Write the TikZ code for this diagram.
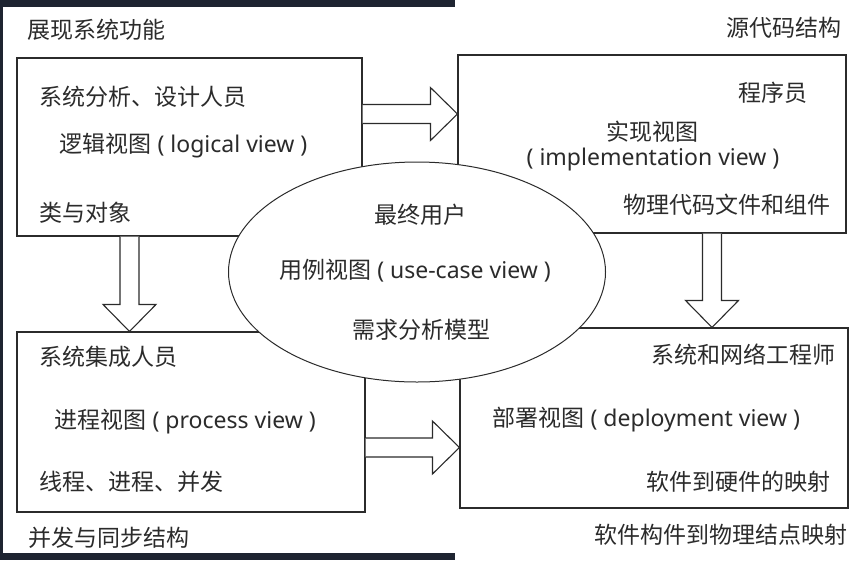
\documentclass[tikz,border=0pt]{standalone}
\usepackage{fontspec}
\setmainfont{Noto Sans CJK SC}
\newfontfamily\enfont{Noto Sans}
\usetikzlibrary{shapes.geometric,calc,positioning}

\definecolor{inkgray}{HTML}{2B2B2B}
\definecolor{framedark}{HTML}{1E2431}

\newcommand{\en}[1]{{\enfont #1}}

\tikzset{
  viewbox/.style={draw=inkgray, line width=1.1pt, fill=white, inner sep=0pt},
  usecase/.style={ellipse, draw=inkgray, line width=1pt, fill=white, inner sep=0pt,
    minimum width=377pt, minimum height=220pt},
  lbl/.style={text=inkgray, font=\fontsize{23}{26}\selectfont, inner sep=0pt},
  hollow/.style={draw=inkgray, line width=1.1pt, fill=white, line join=miter},
}

% hollow block arrow, left to right: from node #1 to node #2 at height #3
\newcommand{\hollowh}[3]{%
  \draw[hollow] (#1.east |- 0,#3-9.5) -- ($(#2.west |- 0,#3)+(-27,-9.5)$) -- ++(0,-17)
    -- (#2.west |- 0,#3) -- ($(#2.west |- 0,#3)+(-27,26.5)$) -- ++(0,-17)
    -- (#1.east |- 0,#3+9.5);}
% hollow block arrow, top to bottom: from node #1 to node #2 at x #3
\newcommand{\hollowv}[3]{%
  \draw[hollow] (#3-9.5,0 |- #1.south) -- ($(#3,0 |- #2.north)+(-9.5,-27)$) -- ++(-17,0)
    -- (#3,0 |- #2.north) -- ($(#3,0 |- #2.north)+(26.5,-27)$) -- ++(-17,0)
    -- (#3+9.5,0 |- #1.south);}

\begin{document}
\begin{tikzpicture}[x=1pt,y=-1pt]
    \useasboundingbox (0,0) rectangle (858,560);
    % window frame
    \fill[framedark] (0,0) rectangle (455,7);
    \fill[framedark] (0,0) rectangle (3,560);
    \fill[framedark] (0,553) rectangle (455,560);

    % four views
    \node[viewbox, minimum width=345pt, minimum height=178pt] (logic)   at (189.5,147) {};
    \node[viewbox, minimum width=388pt, minimum height=178pt] (impl)    at (652,144) {};
    \node[viewbox, minimum width=348pt, minimum height=180pt] (process) at (191,422) {};
    \node[viewbox, minimum width=388pt, minimum height=180pt] (deploy)  at (654,418) {};

    % arrows between the views
    \hollowh{logic}{impl}{114}
    \hollowh{process}{deploy}{447.5}
    \hollowv{logic}{process}{129.5}
    \hollowv{impl}{deploy}{712}

    % use-case view in the middle
    \node[usecase] (usec) at (417,272) {};

    % outer labels
    \node[lbl, anchor=west] (showfunc) at (27,30) {展现系统功能};
    \node[lbl, anchor=east] (srcstruct) at (842,28) {源代码结构};
    \node[lbl, anchor=west] (syncstruct) at (28,538) {并发与同步结构};
    \node[lbl, anchor=east] (mapping) at (848,535) {软件构件到物理结点映射};

    % logical view
    \node[lbl, anchor=west] (logicwho)  at ($(logic.north west)+(23,39)$) {系统分析、设计人员};
    \node[lbl, anchor=west] (logicname) at ($(logic.north west)+(43,88)$) {逻辑视图\en{ ( logical view )}};
    \node[lbl, anchor=west] (logicwhat) at ($(logic.north west)+(23,155)$) {类与对象};

    % implementation view
    \node[lbl, anchor=east] (implwho)   at ($(impl.north east)+(-39,38)$) {程序员};
    \node[lbl] (implname)  at ($(impl.north)+(0,77)$) {实现视图};
    \node[lbl] (implname2) at ($(impl.north)+(1,105)$) {\en{( implementation view )}};
    \node[lbl, anchor=east] (implwhat)  at ($(impl.north east)+(-16,150)$) {物理代码文件和组件};

    % use-case view
    \node[lbl] (usecwho)  at ($(usec.center)+(3,-57)$) {最终用户};
    \node[lbl] (usecname) at ($(usec.center)+(-2,-1)$) {用例视图\en{ ( use-case view )}};
    \node[lbl] (usecwhat) at ($(usec.center)+(4,58)$) {需求分析模型};

    % process view
    \node[lbl, anchor=west] (procwho)  at ($(process.north west)+(23,25)$) {系统集成人员};
    \node[lbl, anchor=west] (procname) at ($(process.north west)+(38,90)$) {进程视图\en{ ( process view )}};
    \node[lbl, anchor=west] (procwhat) at ($(process.north west)+(23,150)$) {线程、进程、并发};

    % deployment view
    \node[lbl, anchor=east] (depwho)  at ($(deploy.north east)+(-13,27)$) {系统和网络工程师};
    \node[lbl, anchor=west] (depname) at ($(deploy.north west)+(33,92)$) {部署视图\en{ ( deployment view )}};
    \node[lbl, anchor=east] (depwhat) at ($(deploy.north east)+(-18,154)$) {软件到硬件的映射};
\end{tikzpicture}
\end{document}
